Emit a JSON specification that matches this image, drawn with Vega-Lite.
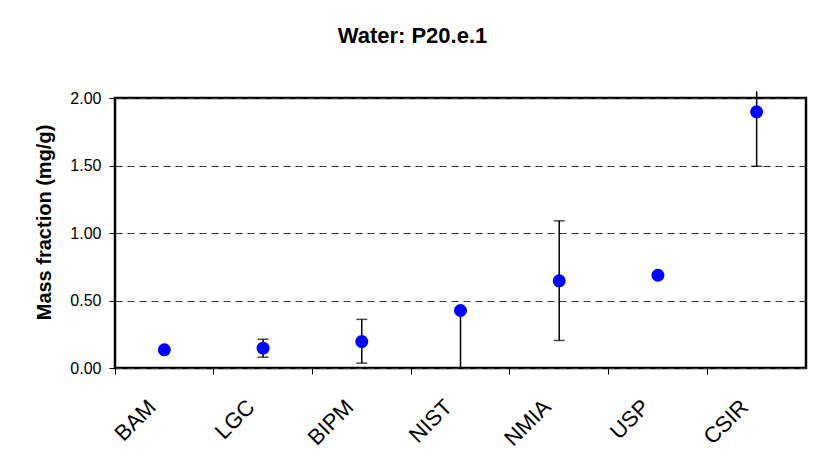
{
  "$schema": "https://vega.github.io/schema/vega-lite/v6.json",
  "width": 691,
  "height": 270,
  "autosize": {"type": "none"},
  "padding": {"left": 115, "top": 98, "right": 12, "bottom": 98},
  "background": "white",
  "title": {
    "text": "Water: P20.e.1",
    "font": "Liberation Sans",
    "fontSize": 22,
    "fontWeight": "bold",
    "color": "black",
    "anchor": "middle",
    "dx": -48,
    "offset": 42
  },
  "config": {
    "view": {"stroke": "black", "strokeWidth": 2.5},
    "axis": {"labelFont": "Liberation Sans", "titleFont": "Liberation Sans", "labelColor": "black", "titleColor": "black", "tickColor": "black"}
  },
  "data": {
    "values": [
      {"lab": "BAM", "value": 0.135, "lo": null, "hi": null, "capLo": null, "capHi": null},
      {"lab": "LGC", "value": 0.147, "lo": 0.08, "hi": 0.213, "capLo": 0.08, "capHi": 0.213},
      {"lab": "BIPM", "value": 0.196, "lo": 0.036, "hi": 0.36, "capLo": 0.036, "capHi": 0.36},
      {"lab": "NIST", "value": 0.426, "lo": 0.0, "hi": 0.426, "capLo": null, "capHi": null},
      {"lab": "NMIA", "value": 0.646, "lo": 0.204, "hi": 1.09, "capLo": 0.204, "capHi": 1.09},
      {"lab": "USP", "value": 0.687, "lo": null, "hi": null, "capLo": null, "capHi": null},
      {"lab": "CSIR", "value": 1.898, "lo": 1.495, "hi": 2.05, "capLo": 1.495, "capHi": null}
    ]
  },
  "encoding": {
    "x": {
      "field": "lab",
      "type": "nominal",
      "sort": ["BAM", "LGC", "BIPM", "NIST", "NMIA", "USP", "CSIR"],
      "scale": {"type": "band", "paddingInner": 0, "paddingOuter": 0, "domain": ["BAM", "LGC", "BIPM", "NIST", "NMIA", "USP", "CSIR"]},
      "axis": {
        "title": null,
        "domain": false,
        "bandPosition": 0,
        "tickSize": 6,
        "labelAngle": -45,
        "labelAlign": "right",
        "labelBaseline": "middle",
        "labelFontSize": 22,
        "labelOffset": -12,
        "labelPadding": 29
      }
    }
  },
  "layer": [
    {
      "mark": {"type": "rule", "color": "black", "strokeWidth": 1.5},
      "encoding": {
        "y": {
          "field": "lo",
          "type": "quantitative",
          "scale": {"domain": [0, 2], "nice": false},
          "axis": {
            "values": [0, 0.5, 1, 1.5, 2],
            "format": ".2f",
            "domain": false,
            "grid": true,
            "gridDash": [7, 5],
            "gridColor": "#333",
            "gridWidth": 1.2,
            "tickSize": 6,
            "labelPadding": 8,
            "labelFontSize": 16,
            "title": "Mass fraction (mg/g)",
            "titleFontSize": 20,
            "titleFontWeight": "bold",
            "titlePadding": 15,
            "titleY": 124
          }
        },
        "y2": {"field": "hi"}
      }
    },
    {
      "mark": {"type": "tick", "color": "black", "thickness": 1.5, "size": 11},
      "encoding": {"y": {"field": "capLo", "type": "quantitative"}}
    },
    {
      "mark": {"type": "tick", "color": "black", "thickness": 1.5, "size": 11},
      "encoding": {"y": {"field": "capHi", "type": "quantitative"}}
    },
    {
      "mark": {"type": "point", "filled": true, "color": "#0000FF", "opacity": 1, "size": 170},
      "encoding": {"y": {"field": "value", "type": "quantitative"}}
    }
  ]
}
